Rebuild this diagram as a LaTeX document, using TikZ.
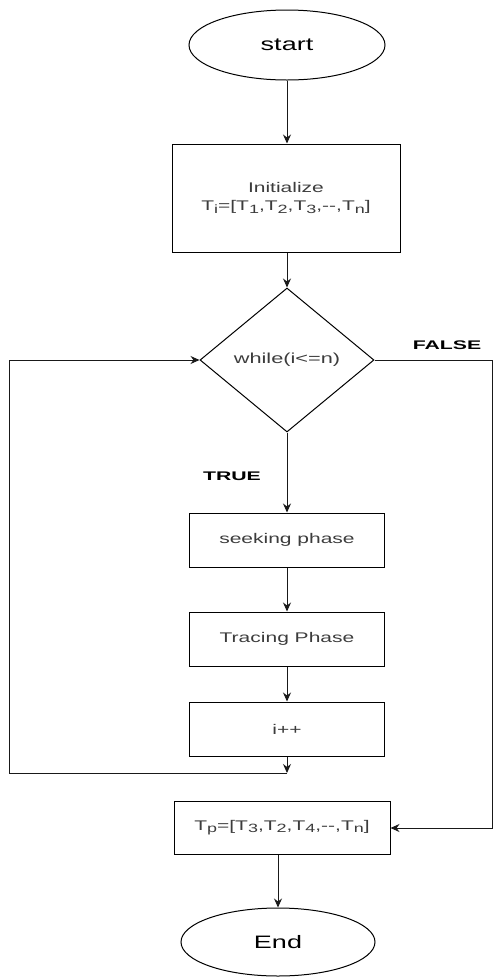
\documentclass[tikz,border=0pt]{standalone}
\usepackage{fontspec}
\setmainfont{Liberation Sans}[FakeStretch=1.5]
\newfontfamily\lblfont{Liberation Sans}[FakeStretch=1.7]
\usetikzlibrary{shapes.geometric,arrows.meta}
\definecolor{txt}{RGB}{60,60,60}
\newcommand\ssub[1]{\raisebox{-0.35ex}{\fontsize{12}{12}\selectfont #1}}
\begin{document}
\begin{tikzpicture}[x=1pt,y=-1pt,
 box/.style={draw=black, line width=1pt, rectangle, inner sep=0pt, align=center, text=txt, font=\fontsize{14}{18}\selectfont},
 term/.style={draw=black, line width=1pt, ellipse, inner sep=0pt, minimum width=196pt, minimum height=70pt, font=\fontsize{18}{20}\selectfont},
 dec/.style={draw=black, line width=1pt, diamond, inner sep=0pt, minimum width=174pt, minimum height=144pt, text=txt, font=\fontsize{14.5}{17}\selectfont},
 arr/.style={draw=black!90, line width=1pt, -{Stealth[length=9pt,width=8pt]}},
 lbl/.style={font=\lblfont\bfseries\fontsize{12.5}{14}\selectfont, text=black}]
\useasboundingbox (0,0) rectangle (493,978);
\node[term] (start) at (287,45) {start};
\node[box, minimum width=228pt, minimum height=108pt] (init) at (286,198) {Initialize\\T\ssub{i}=[T\ssub{1},T\ssub{2},T\ssub{3},-{}-,T\ssub{n}]};
\node[dec] (dec) at (287,360) {while(i<=n)};
\node[box, minimum width=195pt, minimum height=54pt] (seek) at (287,540) {seeking phase};
\node[box, minimum width=195pt, minimum height=54pt] (trace) at (287,639) {Tracing Phase};
\node[box, minimum width=195pt, minimum height=54pt] (inc) at (287,729) {i++};
\node[box, minimum width=216pt, minimum height=53pt] (tp) at (282,827.5) {T\ssub{p}=[T\ssub{3},T\ssub{2},T\ssub{4},-{}-,T\ssub{n}]};
\node[term, minimum width=194pt, minimum height=68pt] (end) at (278,942) {End};
\node[lbl] (false) at (447,345) {FALSE};
\node[lbl] (true) at (232,476) {TRUE};
\coordinate (junc) at (287,773);
\coordinate (lb) at (9,773);
\coordinate (lt) at (9,360);
\coordinate (rt) at (492,360);
\coordinate (rb) at (492,828);
\draw[arr] (start.south) -- (start.south |- init.north);
\draw[arr] (init.south -| dec.north) -- (dec.north);
\draw[arr] (dec.south) -- (seek.north);
\draw[arr] (seek.south) -- (trace.north);
\draw[arr] (trace.south) -- (inc.north);
\draw[arr] (inc.south) -- (junc);
\draw[arr] (junc) -- (lb) -- (lt) -- (dec.west);
\draw[arr] (dec.east) -- (rt) -- (rb) -- (tp.east |- rb);
\draw[arr] (end.north |- tp.south) -- (end.north);
\end{tikzpicture}
\end{document}
